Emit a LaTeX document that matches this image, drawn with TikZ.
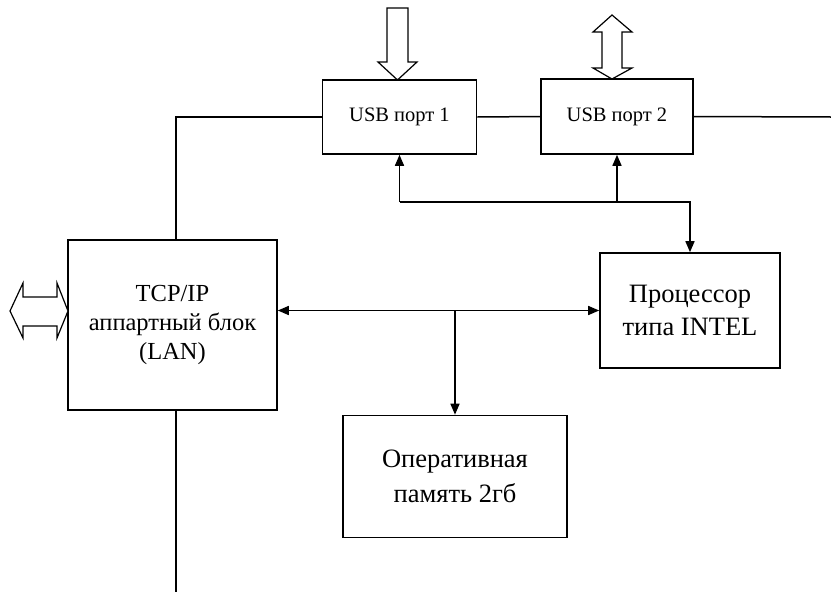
\documentclass[tikz,border=0pt]{standalone}
\usepackage{fontspec}
\setmainfont{Liberation Serif}
\usetikzlibrary{arrows.meta,backgrounds}
\begin{document}
\begin{tikzpicture}[x=1pt,y=-1pt,
  box/.style={draw,line width=1.6pt,fill=white,inner sep=0pt,align=center},
  wire/.style={line width=1.5pt},
  conn/.style={line width=1.5pt,-{Triangle[length=11pt,width=9pt]}},
  hollow/.style={draw,line width=1.2pt,fill=white,line join=miter}]
\useasboundingbox (0,0) rectangle (831,592);
% boxes
\node[box,minimum width=154pt,minimum height=74pt,font={\fontsize{20.5}{24}\selectfont}] (usb1) at (399.5,117) {USB порт 1};
\node[box,minimum width=152pt,minimum height=75pt,font={\fontsize{20.5}{24}\selectfont}] (usb2) at (617,116.5) {USB порт 2};
\node[box,minimum width=209pt,minimum height=170pt,font={\fontsize{24.5}{29}\selectfont}] (tcp) at (172.5,325) {TCP/IP\\аппартный блок\\(LAN)};
\node[box,minimum width=180pt,minimum height=115pt,font={\fontsize{26.5}{33}\selectfont}] (proc) at (690,310.5) {Процессор\\типа INTEL};
\node[box,minimum width=224pt,minimum height=122pt,font={\fontsize{26.5}{35}\selectfont}] (ram) at (455,476.5) {Оперативная\\память 2гб};
% frame lines
\begin{scope}[on background layer]
\coordinate (corner) at (176,117);
\coordinate (bottom) at (176,592);
\coordinate (rightend) at (831,117);
\draw[wire] (bottom) -- (corner) -- (usb1.west);
\draw[wire] (usb1.east) -- (usb2.west);
\draw[wire] (usb2.east) -- (rightend);
\end{scope}
% bus
\coordinate (row) at (0,202);
\coordinate (junction) at (ram.north |- proc.west);
\draw[line width=1.5pt,{Triangle[length=11pt,width=9pt]}-{Triangle[length=11pt,width=9pt]}] (tcp.east |- proc.west) -- (proc.west);
\draw[conn] (junction) -- (ram.north);
\draw[conn] (usb1.south |- row) -- (proc.north |- row) -- (proc.north);
\draw[conn] (usb1.south |- row) -- (usb1.south);
\draw[conn] (usb2.south |- row) -- (usb2.south);
% hollow arrows
\draw[hollow] (387,8) -- (408,8) -- (408,62) -- (417,62) -- (397.5,80) -- (378,62) -- (387,62) -- cycle;
\draw[hollow] (612,15) -- (632,32) -- (622,32) -- (622,68) -- (632,68) -- (612,79) -- (593,68) -- (602,68) -- (602,32) -- (593,32) -- cycle;
\draw[hollow] (10,311) -- (23,283) -- (23,297) -- (57,297) -- (57,283) -- (68,311) -- (57,338) -- (57,326) -- (23,326) -- (23,338) -- cycle;
\end{tikzpicture}
\end{document}
